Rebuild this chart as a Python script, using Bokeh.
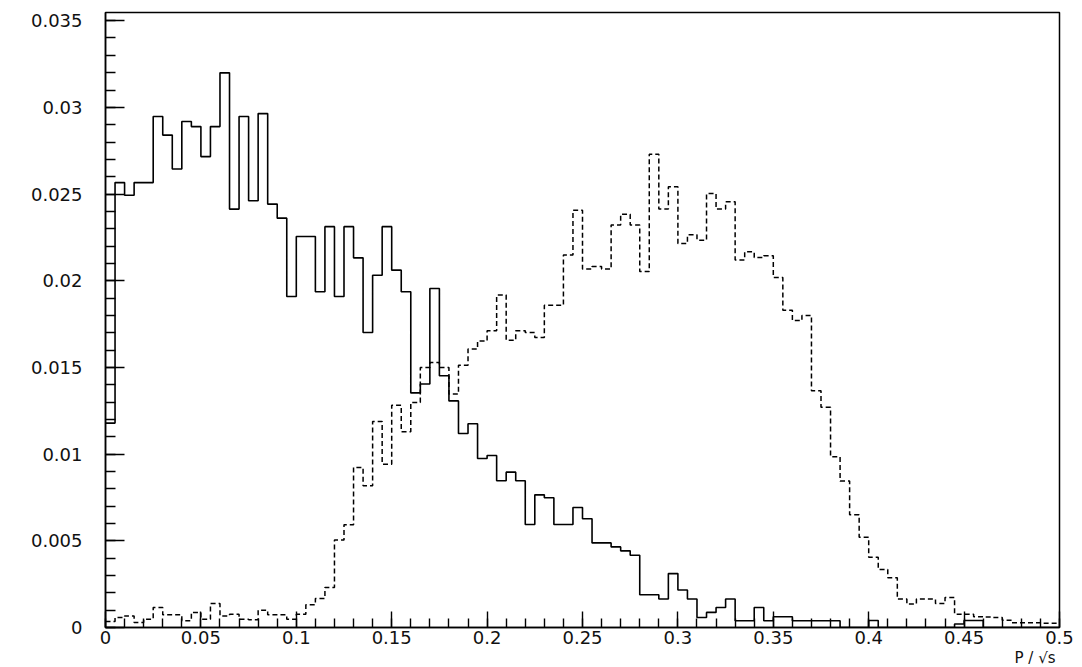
import numpy as np
from bokeh.plotting import figure
from bokeh.models import Range1d, SingleIntervalTicker, NumeralTickFormatter, Title
from bokeh.embed import file_html
from bokeh.resources import INLINE

# histogram binning: 100 bins on [0, 0.5]
x_min, x_max, n_bins = 0.0, 0.5, 100

# solid histogram (bin contents)
solid = [
    0.01179, 0.02566, 0.02493, 0.02566, 0.02566, 0.02947, 0.02840, 0.02644, 0.02918, 0.02889,
    0.02716, 0.02889, 0.03199, 0.02413, 0.02947, 0.02461, 0.02964, 0.02442, 0.02361, 0.01909,
    0.02255, 0.02255, 0.01936, 0.02312, 0.01909, 0.02312, 0.02132, 0.01701, 0.02032, 0.02312,
    0.02061, 0.01936, 0.01353, 0.01404, 0.01955, 0.01452, 0.01307, 0.01119, 0.01175, 0.00975,
    0.00992, 0.00846, 0.00896, 0.00846, 0.00594, 0.00765, 0.00748, 0.00594, 0.00594, 0.00692,
    0.00627, 0.00488, 0.00488, 0.00465, 0.00442, 0.00417, 0.00189, 0.00189, 0.00164, 0.00311,
    0.00216, 0.00164, 0.00058, 0.00087, 0.00115, 0.00164, 0.00039, 0.00039, 0.00115, 0.00039,
    0.00062, 0.00062, 0.00039, 0.00039, 0.00039, 0.00039, 0.00039, 0.0, 0.0, 0.0,
    0.00040, 0.0, 0.0, 0.0, 0.0, 0.0, 0.0, 0.0, 0.0, 0.00020,
    0.00040, 0.00040, 0.0, 0.0, 0.0, 0.0, 0.0, 0.0, 0.0, 0.0,
]

# dashed histogram (bin contents)
dashed = [
    0.00035, 0.00058, 0.00067, 0.00029, 0.00048, 0.00115, 0.00073, 0.00073, 0.00039, 0.00087,
    0.00048, 0.00138, 0.00067, 0.00077, 0.00048, 0.00044, 0.00100, 0.00073, 0.00073, 0.00048,
    0.00077, 0.00131, 0.00167, 0.00231, 0.00504, 0.00592, 0.00923, 0.00817, 0.01188, 0.00942,
    0.01282, 0.01129, 0.01298, 0.01499, 0.01528, 0.01500, 0.01346, 0.01513, 0.01606, 0.01653,
    0.01711, 0.01917, 0.01657, 0.01711, 0.01701, 0.01672, 0.01859, 0.01859, 0.02149, 0.02407,
    0.02067, 0.02082, 0.02067, 0.02321, 0.02384, 0.02321, 0.02053, 0.02730, 0.02413, 0.02542,
    0.02215, 0.02265, 0.02234, 0.02503, 0.02413, 0.02455, 0.02119, 0.02167, 0.02134, 0.02144,
    0.02018, 0.01830, 0.01770, 0.01800, 0.01365, 0.01270, 0.00985, 0.00845, 0.00650, 0.00520,
    0.00405, 0.00335, 0.00287, 0.00164, 0.00135, 0.00164, 0.00164, 0.00138, 0.00173, 0.00077,
    0.00077, 0.00062, 0.00060, 0.00058, 0.00042, 0.00027, 0.00027, 0.00027, 0.00025, 0.00025,
]

x_title = "P / \u221as"

edges = np.linspace(x_min, x_max, n_bins + 1)

p = figure(
    frame_width=954, frame_height=615,
    x_range=Range1d(x_min, x_max), y_range=Range1d(0, 0.03547),
    output_backend="svg", toolbar_location=None,
    min_border_left=105, min_border_right=15, min_border_top=12, min_border_bottom=38,
    background_fill_color="white", border_fill_color="white",
)

p.step(x=edges, y=solid + [solid[-1]], mode="after", line_color="black", line_width=1.6)
p.step(x=edges, y=dashed + [dashed[-1]], mode="after", line_color="black", line_width=1.5,
       line_dash="5 3")

p.grid.visible = False
p.outline_line_color = "black"
p.outline_line_width = 1.5

fmt = NumeralTickFormatter(format="0.[000]")
p.xaxis.ticker = SingleIntervalTicker(interval=0.05, num_minor_ticks=5)
p.yaxis.ticker = SingleIntervalTicker(interval=0.005, num_minor_ticks=5)
for ax in (p.xaxis[0], p.yaxis[0]):
    ax.formatter = fmt
    ax.major_tick_out = 0
    ax.minor_tick_out = 0
    ax.axis_line_color = "black"
    ax.axis_line_width = 1.5
    ax.major_tick_line_color = "black"
    ax.minor_tick_line_color = "black"
    ax.major_tick_line_width = 1.4
    ax.minor_tick_line_width = 1.4
    ax.major_label_text_font = "DejaVu Sans"
    ax.major_label_text_font_size = "18px"
    ax.major_label_text_color = "#111111"

p.xaxis.major_tick_in = 16
p.xaxis.minor_tick_in = 9
p.xaxis.major_label_standoff = 3
p.yaxis.major_tick_in = 19
p.yaxis.minor_tick_in = 10
p.yaxis.major_label_standoff = 23

p.add_layout(Title(text=x_title, align="right", text_font="DejaVu Sans",
                   text_font_size="15px", text_font_style="normal",
                   text_color="#111111", standoff=0, offset=4), "below")

open("out.html", "w").write(file_html(p, INLINE))
